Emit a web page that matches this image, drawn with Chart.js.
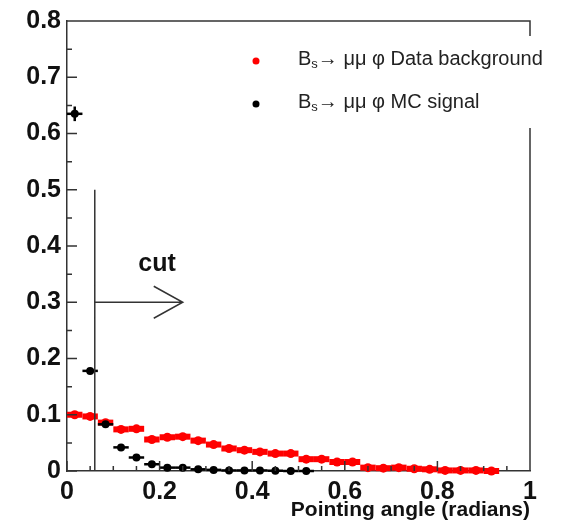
<!DOCTYPE html>
<html>
<head>
<meta charset="utf-8">
<script src="https://cdn.jsdelivr.net/npm/chart.js@4/dist/chart.umd.min.js"></script>
<style>
  html, body { margin: 0; padding: 0; background: #fff; }
  #wrap { width: 563px; height: 524px; }
</style>
</head>
<body>
<div id="wrap"><canvas id="c" width="563" height="524"></canvas></div>
<script>
// bin centres (30 bins over 0..1)
const binCentres = [0.0167, 0.05, 0.0833, 0.1167, 0.15, 0.1833, 0.2167, 0.25, 0.2833, 0.3167,
  0.35, 0.3833, 0.4167, 0.45, 0.4833, 0.5167, 0.55, 0.5833, 0.6167, 0.65,
  0.6833, 0.7167, 0.75, 0.7833, 0.8167, 0.85, 0.8833, 0.9167]
const binWidth = 0.0333

const dataBackground = [0.100, 0.097, 0.086, 0.074, 0.075, 0.056, 0.060, 0.061, 0.054, 0.047,
  0.040, 0.037, 0.034, 0.031, 0.031, 0.021, 0.021, 0.016, 0.016, 0.006,
  0.005, 0.006, 0.004, 0.003, 0.001, 0.001, 0.001, 0.000]
const mcSignal = [0.635, 0.178, 0.083, 0.042, 0.024, 0.012, 0.006, 0.006, 0.003, 0.002,
  0.001, 0.001, 0.001, 0.0005, 0.000, 0.000]
const mcSignalErr = [0.013, 0.004, 0.003, 0.002, 0.0015, 0.001, 0.001, 0.001, 0.0005, 0.0005,
  0.0005, 0.0005, 0.0005, 0.0005, 0, 0]

const legendLabels = ['Data background', 'MC signal']
const xTicks = [0, 0.2, 0.4, 0.6, 0.8, 1]
const yTicks = [0, 0.1, 0.2, 0.3, 0.4, 0.5, 0.6, 0.7, 0.8]

// cut marker
const cutX = 0.06
const cutTop = 0.5
const arrowY = 0.3
const arrowEnd = 0.25
const cutLabel = 'cut'

const FONT = '"Liberation Sans", Arial, Helvetica, sans-serif'
const LINE = '#333'

const redPts = dataBackground.map((v, i) => ({ x: binCentres[i], y: v }))
const blackPts = mcSignal.map((v, i) => ({ x: binCentres[i], y: v }))

const rootStyle = {
  id: 'rootStyle',
  beforeDatasetDraw(chart, args) {
    const ctx = chart.ctx
    const xs = chart.scales.x, ys = chart.scales.y
    const ds = chart.data.datasets[args.index]
    ctx.save()
    ctx.strokeStyle = ds.borderColor
    ctx.lineCap = 'butt'
    ds.data.forEach((p, i) => {
      const y = ys.getPixelForValue(p.y)
      ctx.lineWidth = ds.barWidth
      ctx.beginPath()
      ctx.moveTo(xs.getPixelForValue(p.x - binWidth / 2), y)
      ctx.lineTo(xs.getPixelForValue(p.x + binWidth / 2), y)
      ctx.stroke()
      if (ds.yErr && ds.yErr[i]) {
        ctx.lineWidth = 2.5
        ctx.beginPath()
        ctx.moveTo(xs.getPixelForValue(p.x), ys.getPixelForValue(p.y + ds.yErr[i]))
        ctx.lineTo(xs.getPixelForValue(p.x), ys.getPixelForValue(p.y - ds.yErr[i]))
        ctx.stroke()
      }
    })
    ctx.restore()
  },
  afterDraw(chart) {
    const ctx = chart.ctx
    const xs = chart.scales.x, ys = chart.scales.y
    const a = chart.chartArea
    ctx.save()
    ctx.strokeStyle = LINE
    ctx.lineWidth = 1.5
    // inner ticks
    ctx.beginPath()
    for (let v = 0; v <= 1.0001; v += 0.05) {
      const px = xs.getPixelForValue(v)
      const major = Math.abs(v / 0.2 - Math.round(v / 0.2)) < 0.01
      ctx.moveTo(px, a.bottom)
      ctx.lineTo(px, a.bottom - (major ? 10 : 5))
    }
    for (let v = 0; v <= 0.8001; v += 0.05) {
      const py = ys.getPixelForValue(v)
      const major = Math.abs(v / 0.1 - Math.round(v / 0.1)) < 0.01
      ctx.moveTo(a.left, py)
      ctx.lineTo(a.left + (major ? 10 : 5), py)
    }
    // top and right frame, right side hidden behind the legend box
    ctx.moveTo(a.left, a.top)
    ctx.lineTo(a.right, a.top)
    ctx.lineTo(a.right, 36)
    ctx.moveTo(a.right, 128)
    ctx.lineTo(a.right, a.bottom)
    ctx.stroke()

    // cut line and arrow
    const cx = xs.getPixelForValue(cutX)
    const ay = ys.getPixelForValue(arrowY)
    const ax = xs.getPixelForValue(arrowEnd)
    ctx.beginPath()
    ctx.moveTo(cx, ys.getPixelForValue(cutTop))
    ctx.lineTo(cx, a.bottom)
    ctx.moveTo(cx, ay)
    ctx.lineTo(ax, ay)
    ctx.moveTo(ax - 29, ay - 16)
    ctx.lineTo(ax, ay)
    ctx.lineTo(ax - 29, ay + 16)
    ctx.stroke()
    ctx.fillStyle = '#111'
    ctx.font = 'bold 25px ' + FONT
    ctx.textAlign = 'center'
    ctx.textBaseline = 'middle'
    ctx.fillText(cutLabel, 157, 264)

    // legend
    const rows = [{ y: 58, color: '#ff0000', label: legendLabels[0] },
                  { y: 101, color: '#000000', label: legendLabels[1] }]
    ctx.textAlign = 'left'
    ctx.textBaseline = 'alphabetic'
    rows.forEach(r => {
      ctx.fillStyle = r.color
      ctx.beginPath()
      ctx.arc(256, r.y + 3, 3.5, 0, Math.PI * 2)
      ctx.fill()
      ctx.fillStyle = '#222'
      let x = 298
      const base = r.y + 7
      ctx.font = '20px ' + FONT
      ctx.fillText('B', x, base)
      x += ctx.measureText('B').width
      ctx.font = '13px ' + FONT
      ctx.fillText('s', x, base + 3)
      x += ctx.measureText('s').width
      ctx.font = '20px ' + FONT
      ctx.fillText('\u2192 \u03bc\u03bc \u03c6 ' + r.label, x, base)
    })
    ctx.restore()
  }
}

new Chart(document.getElementById('c').getContext('2d'), {
  type: 'scatter',
  data: {
    datasets: [
      {
        label: legendLabels[1],
        data: blackPts,
        yErr: mcSignalErr,
        barWidth: 2.5,
        pointRadius: 4,
        pointStyle: 'circle',
        backgroundColor: '#000',
        borderColor: '#000',
        borderWidth: 0,
        clip: false,
        order: 0
      },
      {
        label: legendLabels[0],
        data: redPts,
        barWidth: 6,
        pointRadius: 4.5,
        pointStyle: 'circle',
        backgroundColor: '#ff0000',
        borderColor: '#ff0000',
        borderWidth: 0,
        clip: false,
        order: 1
      }
    ]
  },
  options: {
    responsive: false,
    animation: false,
    layout: { padding: { top: 20, right: 33, left: 0, bottom: 0 } },
    plugins: { legend: { display: false }, tooltip: { enabled: false } },
    scales: {
      x: {
        type: 'linear',
        min: 0,
        max: 1,
        afterBuildTicks(s) { s.ticks = xTicks.map(v => ({ value: v })) },
        afterFit(s) { s.height = 53 },
        ticks: {
          color: '#111',
          font: { family: FONT, size: 25, weight: 'bold' },
          padding: 6,
          maxRotation: 0,
          callback: v => String(v)
        },
        grid: { display: false, drawTicks: false },
        border: { display: true, color: LINE, width: 1.5 },
        title: {
          display: true,
          text: 'Pointing angle (radians)',
          align: 'end',
          color: '#111',
          font: { family: FONT, size: 21, weight: 'bold' },
          padding: { top: 0, bottom: 1 }
        }
      },
      y: {
        min: 0,
        max: 0.8,
        afterBuildTicks(s) { s.ticks = yTicks.map(v => ({ value: v })) },
        afterFit(s) { s.width = 67 },
        ticks: {
          color: '#111',
          font: { family: FONT, size: 25, weight: 'bold' },
          padding: 6,
          callback: v => String(v)
        },
        grid: { display: false, drawTicks: false },
        border: { display: true, color: LINE, width: 1.5 }
      }
    }
  },
  plugins: [rootStyle]
})
</script>
</body>
</html>
